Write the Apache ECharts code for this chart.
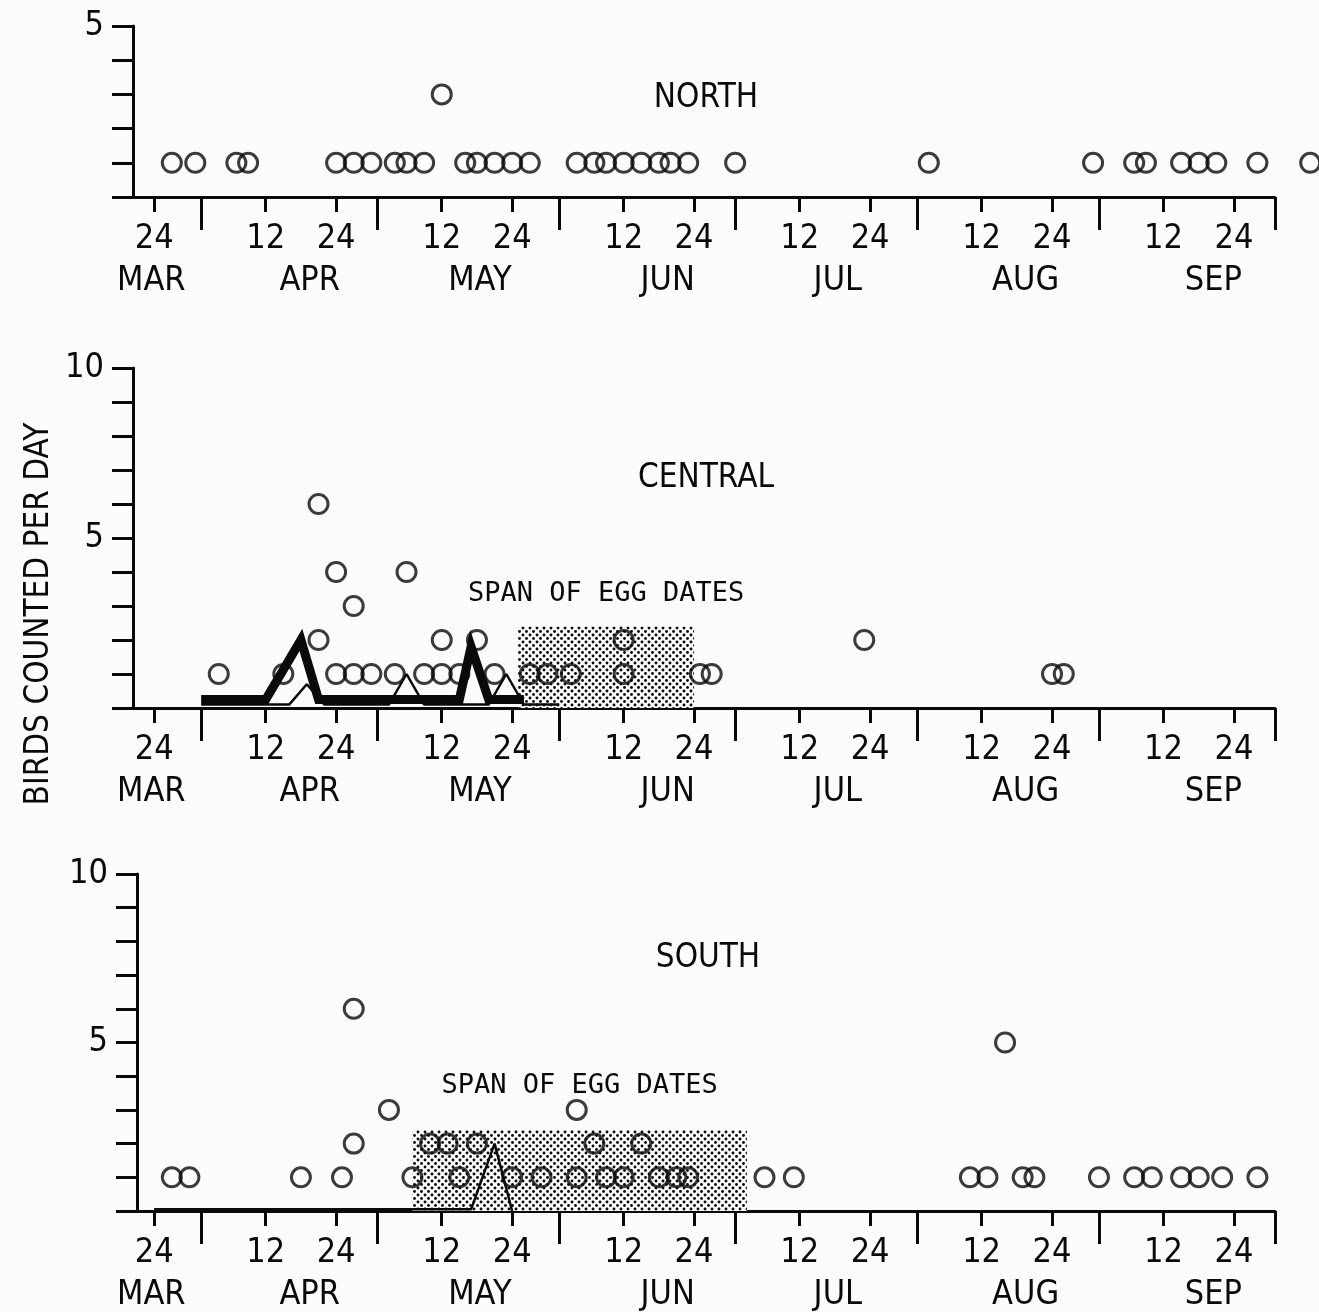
<!DOCTYPE html>
<html>
<head>
<meta charset="utf-8">
<title>Birds counted per day</title>
<script src="https://cdn.jsdelivr.net/npm/echarts@6/dist/echarts.min.js"></script>
<style>
	html, body { margin: 0; padding: 0; background: #fcfcfc; }
	#chart { width: 1319px; height: 1312px; }
</style>
</head>
<body>
<div id="chart"></div>
<script>
	// x values are days counted from 1 March (24 Mar = 23, 1 Apr = 31 ... 1 Oct = 214)
	const dayTicks = [23, 42, 54, 72, 84, 103, 115, 133, 145, 164, 176, 195, 207];
	const dayTickLabels = ['24', '12', '24', '12', '24', '12', '24', '12', '24', '12', '24', '12', '24'];
	const monthStarts = [31, 61, 92, 122, 153, 184, 214];
	const monthNames = ['MAR', 'APR', 'MAY', 'JUN', 'JUL', 'AUG', 'SEP'];
	const monthLabelAt = [22.5, 49.5, 78.5, 110.5, 139.5, 171.5, 203.5];

	// NORTH
	const northDays = [26, 30, 37, 39, 54, 57, 60, 64, 66, 69, 72, 76, 78, 81, 84, 87, 95, 98, 100, 103, 106, 109, 111, 114, 122, 155, 183, 190, 192, 198, 201, 204, 211, 220];
	const northBirds = [1, 1, 1, 1, 1, 1, 1, 1, 1, 1, 3, 1, 1, 1, 1, 1, 1, 1, 1, 1, 1, 1, 1, 1, 1, 1, 1, 1, 1, 1, 1, 1, 1, 1];

	// CENTRAL
	const centralDays = [34, 45, 51, 51, 54, 54, 57, 57, 60, 64, 66, 69, 72, 72, 75, 78, 81, 87, 90, 94, 103, 103, 116, 118, 144, 176, 178];
	const centralBirds = [1, 1, 6, 2, 4, 1, 3, 1, 1, 1, 4, 1, 2, 1, 1, 2, 1, 1, 1, 1, 2, 1, 1, 1, 2, 1, 1];
	const centralBoldDays = [31, 42, 48, 51, 75, 77, 80, 86];
	const centralBoldBirds = [0.25, 0.25, 2, 0.25, 0.25, 1.8, 0.25, 0.25];
	const centralThinDays = [31, 46, 49, 52, 63, 66, 69, 80, 83, 86, 92];
	const centralThinBirds = [0.1, 0.1, 0.7, 0.1, 0.1, 1, 0.1, 0.1, 1, 0.1, 0.1];
	const centralEggSpan = [85, 115];

	// SOUTH
	const southDays = [26, 29, 48, 55, 57, 57, 63, 67, 70, 73, 75, 78, 84, 89, 95, 95, 98, 100, 103, 106, 109, 112, 114, 127, 132, 162, 165, 168, 171, 173, 184, 190, 193, 198, 201, 205, 211];
	const southBirds = [1, 1, 1, 1, 6, 2, 3, 1, 2, 2, 1, 2, 1, 1, 3, 1, 2, 1, 1, 2, 1, 1, 1, 1, 1, 1, 1, 5, 1, 1, 1, 1, 1, 1, 1, 1, 1];
	const southThinDays = [23, 77, 81, 84];
	const southThinBirds = [0.05, 0.05, 2, 0];
	const southEggSpan = [67, 124];

	const INK = '#0a0a0a';
	const BG = '#fcfcfc';
	const FONT = '"Liberation Sans Narrow", "DejaVu Sans Condensed", "Liberation Sans", sans-serif';
	const MONO = '"DejaVu Sans Mono", "Liberation Mono", monospace';
	const spanTop = 2.4;
	const xMax = 214;
	const pxPerDay = 5.868;
	const plotRight = 1275;

	function pairs(xs, ys) {
		return xs.map((x, i) => [x, ys[i]]);
	}

	function stipple() {
		const c = document.createElement('canvas');
		c.width = 7;
		c.height = 7;
		const g = c.getContext('2d');
		g.fillStyle = BG;
		g.fillRect(0, 0, 7, 7);
		g.fillStyle = INK;
		g.beginPath(); g.arc(1.5, 1.5, 1.45, 0, Math.PI * 2); g.fill();
		g.beginPath(); g.arc(5, 5, 1.45, 0, Math.PI * 2); g.fill();
		return c;
	}
	const dots = { image: stipple(), repeat: 'repeat' };

	const panels = [
		{ left: 133, top: 26, height: 171, yMax: 5, yLabels: [5] },
		{ left: 133, top: 368, height: 340, yMax: 10, yLabels: [5, 10] },
		{ left: 137, top: 874, height: 340, yMax: 10, yLabels: [5, 10] }
	];

	const grid = [], xAxis = [], yAxis = [];
	panels.forEach((p, i) => {
		const xMin = xMax - (plotRight - p.left) / pxPerDay;
		grid.push({ left: p.left, right: 1319 - plotRight, top: p.top, height: p.height });
		// day ticks (12, 24) with their labels
		xAxis.push({
			type: 'value', gridIndex: i, position: 'bottom', min: xMin, max: xMax,
			splitLine: { show: false },
			axisLine: { show: true, onZero: false, lineStyle: { color: INK, width: 3 } },
			axisTick: { show: true, customValues: dayTicks, length: 15, lineStyle: { color: INK, width: 3 } },
			axisLabel: {
				customValues: dayTicks, margin: 25, color: INK, fontFamily: FONT, fontSize: 34, lineHeight: 34,
				formatter: v => dayTickLabels[dayTicks.indexOf(v)] || ''
			}
		});
		// month boundaries (long ticks) and month names
		xAxis.push({
			type: 'value', gridIndex: i, position: 'bottom', min: xMin, max: xMax,
			splitLine: { show: false },
			axisLine: { show: false, onZero: false },
			axisTick: { show: true, customValues: monthStarts, length: 33, lineStyle: { color: INK, width: 3 } },
			axisLabel: {
				customValues: monthLabelAt, margin: 67, color: INK, fontFamily: FONT, fontSize: 34, lineHeight: 34,
				formatter: v => monthNames[monthLabelAt.indexOf(v)] || ''
			}
		});
		yAxis.push({
			type: 'value', gridIndex: i, min: 0, max: p.yMax, interval: 1,
			splitLine: { show: false },
			axisLine: { show: true, lineStyle: { color: INK, width: 3 } },
			axisTick: { show: true, length: 21, lineStyle: { color: INK, width: 3 } },
			axisLabel: { customValues: p.yLabels, margin: 29, color: INK, fontFamily: FONT, fontSize: 34 }
		});
	});

	function circles(name, xi, yi, data) {
		return {
			name: name, type: 'scatter', xAxisIndex: xi, yAxisIndex: yi, z: 4, clip: false,
			symbol: 'circle', symbolSize: 19, data: data,
			itemStyle: { color: 'rgba(0,0,0,0)', borderColor: INK, borderWidth: 3 }
		};
	}

	function eggSpan(xi, yi, span, labelGap) {
		return {
			type: 'scatter', xAxisIndex: xi, yAxisIndex: yi, z: 1, data: [], silent: true,
			markArea: {
				silent: true,
				itemStyle: { color: dots, borderWidth: 0 },
				label: { show: true, position: 'top', distance: labelGap, color: INK, fontFamily: MONO, fontSize: 27 },
				data: [[{ name: 'SPAN OF EGG DATES', coord: [span[0], 0] }, { coord: [span[1], spanTop] }]]
			}
		};
	}

	const series = [
		circles('North', 0, 0, pairs(northDays, northBirds)),

		eggSpan(2, 1, centralEggSpan, 19),
		{
			type: 'line', xAxisIndex: 2, yAxisIndex: 1, z: 2, showSymbol: false, symbol: 'none',
			data: pairs(centralThinDays, centralThinBirds),
			lineStyle: { color: INK, width: 2.5 }
		},
		{
			type: 'line', xAxisIndex: 2, yAxisIndex: 1, z: 3, showSymbol: false, symbol: 'none',
			data: pairs(centralBoldDays, centralBoldBirds),
			lineStyle: { color: INK, width: 9, join: 'miter', cap: 'butt' }
		},
		circles('Central', 2, 1, pairs(centralDays, centralBirds)),

		eggSpan(4, 2, southEggSpan, 31),
		{
			type: 'line', xAxisIndex: 4, yAxisIndex: 2, z: 2, showSymbol: false, symbol: 'none',
			data: pairs(southThinDays, southThinBirds),
			lineStyle: { color: INK, width: 2.5 }
		},
		circles('South', 4, 2, pairs(southDays, southBirds))
	];

	function label(text, x, y, rot) {
		return {
			type: 'text', x: x, y: y, rotation: rot || 0, silent: true,
			style: { text: text, fill: INK, font: '33px ' + FONT, align: 'center', verticalAlign: 'middle' }
		};
	}

	const chart = echarts.init(document.getElementById('chart'), null, { renderer: 'canvas' });
	chart.setOption({
		backgroundColor: BG,
		animation: false,
		grid: grid,
		xAxis: xAxis,
		yAxis: yAxis,
		series: series,
		graphic: [
			label('NORTH', 706, 98),
			label('CENTRAL', 706, 478),
			label('SOUTH', 708, 958),
			label('BIRDS COUNTED PER DAY', 39, 614, Math.PI / 2)
		]
	});
</script>
</body>
</html>
